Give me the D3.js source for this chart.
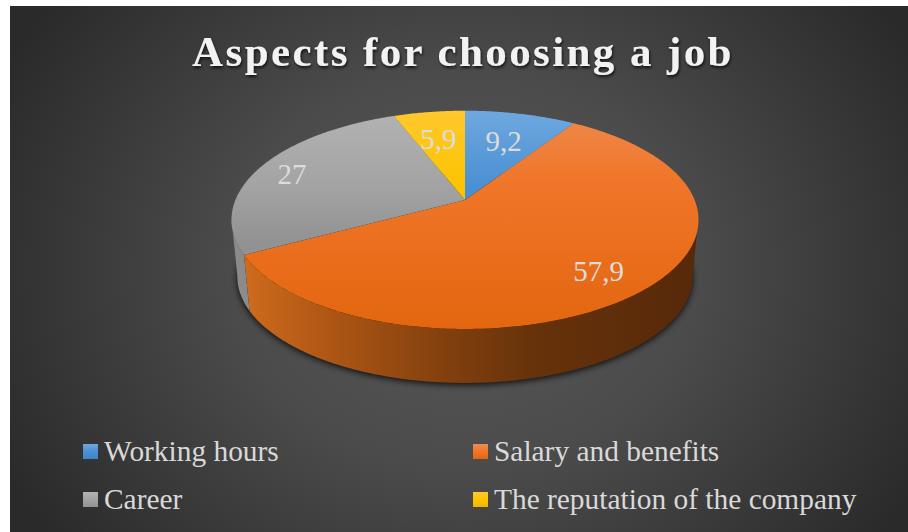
<!DOCTYPE html>
<html>
<head>
<meta charset="utf-8">
<style>
  html, body { margin: 0; padding: 0; background: #fff; }
  svg { display: block; }
  text { font-family: "Liberation Serif", serif; }
</style>
<script src="https://cdn.jsdelivr.net/npm/d3@7/dist/d3.min.js"></script>
</head>
<body>
<svg id="chart" width="908" height="532"></svg>
<script>
const chartTitle = "Aspects for choosing a job";
const categories = ["Working hours", "Salary and benefits", "Career", "The reputation of the company"];
const shares = [9.2, 57.9, 27, 5.9];
const shareLabels = ["9,2", "57,9", "27", "5,9"];

// Per-slice colours: top-face gradient stops.
const faceStops = [
  ["#6fa8df", "#4a90d3", "#3f86c8"],
  ["#ef8a4c", "#f0762a", "#e3660f"],
  ["#b3b3b3", "#a3a3a3", "#929292"],
  ["#ffc82e", "#fcc400", "#efb800"]
];
// Value label placement: fraction of the radius plus a small pixel nudge.
const labelRadius = [0.62, 0.77, 0.85, 0.62];
const labelNudge = [[2, -1], [0, 5], [1, 4], [-3, -2]];

const W = 908, H = 532;
const svg = d3.select("#chart");
const defs = svg.append("defs");

// Tilted disc: a projective map of the unit circle gives the perspective ellipse.
const centre = { x: 465, y: 200 };
const tilt = { b: 229.6, a: 105.5, k: -0.1819 };
const wall = { scale: 0.975, drop: 57.2 };

function project(r, theta) {
  const u = r * Math.sin(theta), v = -r * Math.cos(theta);
  const d = 1 + tilt.k * v;
  return [centre.x + tilt.b * u / d, centre.y + tilt.a * v / d];
}
function projectBase(theta) {
  const p = project(1, theta);
  return [centre.x + wall.scale * (p[0] - centre.x),
          centre.y + wall.drop + wall.scale * (p[1] - centre.y)];
}
function rimAngles(a0, a1) {
  const n = Math.max(2, Math.ceil(Math.abs(a1 - a0) / 0.01));
  return d3.range(n + 1).map(i => a0 + (a1 - a0) * i / n);
}
const poly = d3.line();

// Background panel
const bg = defs.append("radialGradient").attr("id", "panel")
  .attr("gradientUnits", "userSpaceOnUse")
  .attr("cx", 465).attr("cy", 270).attr("r", 520)
  .attr("gradientTransform", "translate(465 270) scale(1 0.85) translate(-465 -270)");
bg.append("stop").attr("offset", 0).attr("stop-color", "#585858");
bg.append("stop").attr("offset", 0.45).attr("stop-color", "#4b4b4b");
bg.append("stop").attr("offset", 1).attr("stop-color", "#2a2a2a");
svg.append("rect").attr("x", 10).attr("y", 6).attr("width", W - 10).attr("height", H - 6)
  .attr("fill", "url(#panel)");

// Title
const titleShadow = defs.append("filter").attr("id", "titleShadow")
  .attr("x", "-5%").attr("y", "-20%").attr("width", "110%").attr("height", "150%");
titleShadow.append("feDropShadow").attr("dx", 1).attr("dy", 2).attr("stdDeviation", 1.6)
  .attr("flood-color", "#000").attr("flood-opacity", 0.75);
svg.append("text")
  .attr("x", 463).attr("y", 66).attr("text-anchor", "middle")
  .attr("font-size", 43).attr("font-weight", 700).attr("letter-spacing", 2.4)
  .attr("fill", "#f2f2f2").attr("filter", "url(#titleShadow)")
  .text(chartTitle);

// Slice layout
const pie = d3.pie().sort(null).value(d => d);
const slices = pie(shares);

// Face gradients
faceStops.forEach((stops, i) => {
  const g = defs.append("linearGradient").attr("id", "face" + i)
    .attr("gradientUnits", "userSpaceOnUse")
    .attr("x1", 0).attr("x2", 0).attr("y1", 110).attr("y2", 329);
  const at = i === 1 ? [0, 0.32, 1] : [0, 0.35, 0.6];
  stops.forEach((c, j) => g.append("stop").attr("offset", at[j]).attr("stop-color", c));
  const s = defs.append("linearGradient").attr("id", "swatch" + i)
    .attr("x1", 0).attr("x2", 0).attr("y1", 0).attr("y2", 1);
  stops.forEach((c, j) => s.append("stop").attr("offset", j / 2).attr("stop-color", c));
});

// Side wall shading runs from lit on the left to deep shade on the right
const wallOrange = defs.append("linearGradient").attr("id", "wallOrange")
  .attr("gradientUnits", "userSpaceOnUse")
  .attr("x1", 240).attr("x2", 695).attr("y1", 0).attr("y2", 0);
[[0, "#d06c1e"], [0.2, "#ad5614"], [0.45, "#82400e"], [0.65, "#66320a"], [1, "#57290a"]]
  .forEach(d => wallOrange.append("stop").attr("offset", d[0]).attr("stop-color", d[1]));

// Soft shadow under the disc
const blur = defs.append("filter").attr("id", "soft")
  .attr("x", "-10%").attr("y", "-10%").attr("width", "120%").attr("height", "120%");
blur.append("feGaussianBlur").attr("stdDeviation", 3);
const fullCircle = rimAngles(0, 2 * Math.PI);
svg.append("path")
  .attr("d", poly(fullCircle.map(t => {
    const p = projectBase(t);
    return [p[0], p[1] + 2];
  })) + "Z")
  .attr("fill", "#000").attr("opacity", 0.8).attr("filter", "url(#soft)");

// Side walls along the front of the rim
const frontStart = 100 * Math.PI / 180, frontEnd = 260 * Math.PI / 180;
const wallFill = i => i === 1 ? "url(#wallOrange)" : i === 2 ? "#8b8b8b" : "#555";
slices.forEach((s, i) => {
  const a0 = Math.max(s.startAngle, frontStart), a1 = Math.min(s.endAngle, frontEnd);
  if (a1 <= a0) return;
  const angles = rimAngles(a0, a1);
  const pts = angles.map(t => project(1, t))
    .concat(angles.slice().reverse().map(projectBase));
  svg.append("path").attr("d", poly(pts) + "Z").attr("fill", wallFill(i));
});

// Top faces
svg.selectAll("path.face").data(slices).join("path")
  .attr("class", "face")
  .attr("d", s => poly([[centre.x, centre.y]].concat(
    rimAngles(s.startAngle, s.endAngle).map(t => project(1, t)))) + "Z")
  .attr("fill", (s, i) => `url(#face${i})`);

// Value labels
svg.selectAll("text.value").data(slices).join("text")
  .attr("class", "value")
  .attr("text-anchor", "middle")
  .attr("font-size", 29)
  .attr("fill", "#dcdcdc")
  .attr("x", (s, i) => project(labelRadius[i], (s.startAngle + s.endAngle) / 2)[0] + labelNudge[i][0])
  .attr("y", (s, i) => project(labelRadius[i], (s.startAngle + s.endAngle) / 2)[1] + 9 + labelNudge[i][1])
  .text((s, i) => shareLabels[i]);

// Legend in two rows of two
const legendX = d3.scalePoint().domain([0, 1]).range([83, 473]);
const legendY = d3.scalePoint().domain([0, 1]).range([444, 492]);
const legend = svg.selectAll("g.legend").data(categories).join("g")
  .attr("class", "legend")
  .attr("transform", (d, i) => `translate(${legendX(i % 2)},${legendY(Math.floor(i / 2))})`);
legend.append("rect").attr("width", 15).attr("height", 15)
  .attr("fill", (d, i) => `url(#swatch${i})`);
legend.append("text").attr("x", 21).attr("y", 17)
  .attr("font-size", 29.4).attr("fill", "#d9d9d9")
  .text(d => d);
</script>
</body>
</html>
